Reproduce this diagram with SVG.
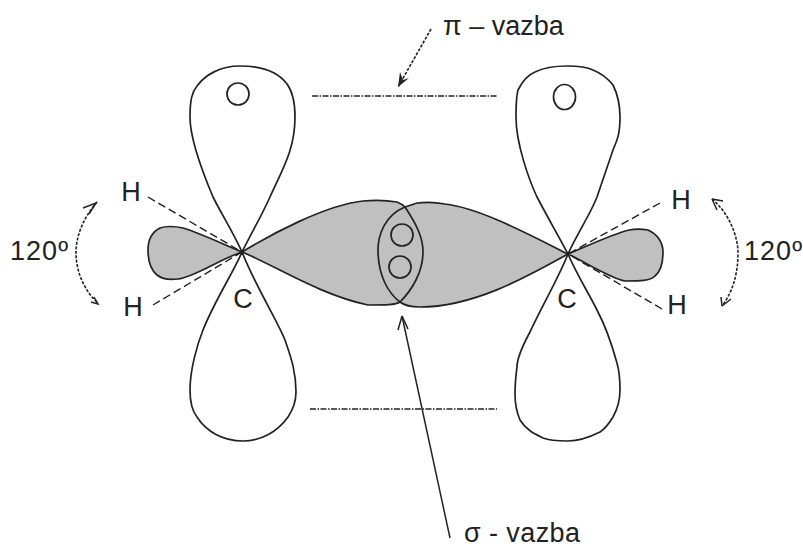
<svg xmlns="http://www.w3.org/2000/svg" width="803" height="548" viewBox="0 0 803 548">
<style>
.o{fill:none;stroke:#222;stroke-width:1.7}
.f{fill:#c0c0c0;stroke:none}
.d{fill:none;stroke:#222;stroke-width:1.4;stroke-dasharray:8 4}
.p{fill:none;stroke:#222;stroke-width:1.5;stroke-dasharray:6 1.500 1.500 1.500}
.s{fill:none;stroke:#222;stroke-width:1.6;stroke-dasharray:3 1.500}
.h{fill:none;stroke:#222;stroke-width:1.5}
.t{font-family:"Liberation Sans",Arial,sans-serif;fill:#222;font-size:27px}
</style>
<g id="sigma-bond-lobes">
<path class="f" d="M568,254C530,235 480,208 445,204C435,202 425,202 417,203L405,207C385,215 378,235 378,250C378,275 388,293 400,302C405,306 412,307 420,307C475,307 530,275 568,254Z"/>
<path class="f" d="M242,252C270,235 325,205 363,201C375,200 385,200 397,202C402,204 404,206 405,207C417,225 423,238 423,252C423,272 412,290 400,302C396,305 385,305 368,305C320,295 272,264 242,252Z"/>
<path class="o" d="M242,252C270,235 325,205 363,201C375,200 385,200 397,202C402,204 404,206 405,207C417,225 423,238 423,252C423,272 412,290 400,302C396,305 385,305 368,305C320,295 272,264 242,252Z"/>
<path class="o" d="M568,254C530,235 480,208 445,204C435,202 425,202 417,203L405,207C385,215 378,235 378,250C378,275 388,293 400,302C405,306 412,307 420,307C475,307 530,275 568,254Z"/>
<circle class="o" cx="402" cy="235" r="11"/><circle class="o" cx="400" cy="267" r="11"/>
</g>
<g id="carbon-left">
<path class="f" d="M242,252C225,245 200,233 183,228C175,226 165,226 160,228C152,232 148,240 148,250C148,262 151,270 157,275C162,279 170,280 178,279C195,277 222,258 242,252Z"/>
<path class="o" d="M242,252C225,245 200,233 183,228C175,226 165,226 160,228C152,232 148,240 148,250C148,262 151,270 157,275C162,279 170,280 178,279C195,277 222,258 242,252Z"/>
<path class="o" d="M242,252C232,230 222,215 213,197C205,178 190,140 190,117C190,100 192,92 197,86C205,75 220,66 240,66C262,66 278,72 287,84C293,92 295,105 295,117C295,150 282,170 270,197C262,215 252,232 242,252Z"/>
<path class="o" d="M242,252C232,275 215,300 203,330C197,345 190,370 190,390C190,405 193,412 197,417C206,431 222,441 243,441C262,441 278,431 288,417C294,408 296,400 296,392C296,370 290,355 285,340C278,322 255,285 242,252Z"/>
<circle class="o" cx="238" cy="94" r="11"/>
<text class="t" x="243" y="308" text-anchor="middle">C</text>
</g>
<g id="carbon-right">
<path class="f" d="M568,254C590,245 610,235 629,230C635,229 642,229 648,230C657,234 663,242 663,252C663,265 660,272 655,276C650,281 640,281 625,281C610,278 585,262 568,254Z"/>
<path class="o" d="M568,254C590,245 610,235 629,230C635,229 642,229 648,230C657,234 663,242 663,252C663,265 660,272 655,276C650,281 640,281 625,281C610,278 585,262 568,254Z"/>
<path class="o" d="M568,254C558,235 548,218 537,197C530,182 516,145 516,117C516,105 516,97 518,90C523,80 530,74 535,72C545,67 555,66 567,66C578,66 587,67 593,70C603,74 609,80 613,85C618,95 620,105 620,117C620,135 617,140 613,150C608,165 602,182 597,197C590,215 578,232 568,254Z"/>
<path class="o" d="M568,254C560,275 540,310 530,332C523,345 517,360 517,367C516,375 515,382 515,394C515,405 517,413 520,420C526,430 535,434 543,438C550,441 560,441 568,441C580,441 590,437 600,432C606,428 610,422 613,417C618,408 620,400 620,390C620,378 619,370 617,363C612,345 605,325 597,310C588,292 577,275 568,254Z"/>
<ellipse class="o" cx="564.500" cy="97" rx="11" ry="12.500"/>
<text class="t" x="567" y="308" text-anchor="middle">C</text>
</g>
<g id="hydrogens">
<text class="t" x="131" y="201" text-anchor="middle">H</text>
<text class="t" x="133" y="316" text-anchor="middle">H</text>
<text class="t" x="681" y="209" text-anchor="middle">H</text>
<text class="t" x="677" y="314" text-anchor="middle">H</text>
</g>
<g id="connectors">
<path class="d" d="M148,197L242,252"/>
<path class="d" d="M153,305L242,252"/>
<path class="d" d="M660,203L568,254"/>
<path class="d" d="M662,309L568,254"/>
<path class="p" d="M312,96H497"/>
<path class="p" d="M310,409H497"/>
<path class="s" d="M97,202C80,222 76,240 76,253C76,272 85,292 98,303"/>
<path class="h" d="M83,208L96,203L89,214M91,302L98,304L94,297"/>
<path class="s" d="M712,199C728,212 738,235 738,253C738,275 732,293 722,306"/>
<path class="h" d="M712,199L723,201M712,199L717,210M722,306L721,297M722,306L731,299"/>
<path class="s" d="M431,29L398,87"/>
<path d="M398,87L400,72L403,80L409,78Z" fill="#222"/>
<path class="h" d="M450,538L402,316"/>
<path class="h" d="M402,316L398,330M402,316L408,329"/>
</g>
<g id="labels">
<text class="t" x="443" y="35">π – vazba</text>
<text class="t" x="464" y="542" textLength="116">σ - vazba</text>
<text class="t" x="10" y="260" textLength="58">120º</text>
<text class="t" x="744" y="260" textLength="58">120º</text>
</g>
</svg>
